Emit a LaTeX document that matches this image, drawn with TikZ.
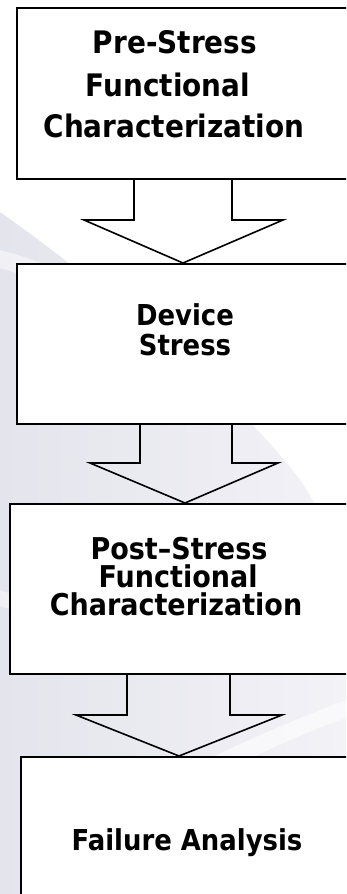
\documentclass[tikz,border=0pt]{standalone}
\usepackage{fontspec}
\newfontfamily\labelfont[FakeStretch=0.9]{DejaVu Sans}
\usetikzlibrary{calc}

\definecolor{haze}{HTML}{E4E4EC}
\definecolor{hazelight}{HTML}{F2F2F7}

\tikzset{
  stage/.style={draw=black, line width=2pt, fill=white, rectangle, inner sep=0pt,
    minimum width=380pt, anchor=north west},
  flow/.style={draw=black, line width=1.6pt, line join=miter},
  caption/.style={anchor=base, inner sep=0pt, text=black},
  big/.style={caption, font=\labelfont\bfseries\fontsize{31}{32}\selectfont},
  wide/.style={caption, font=\labelfont\bfseries\fontsize{30}{31}\selectfont},
  mid/.style={caption, font=\labelfont\bfseries\fontsize{28.8}{30}\selectfont},
}

\begin{document}
\begin{tikzpicture}[x=1pt, y=-1pt]
  \useasboundingbox (0,0) rectangle (346,894);
  \clip (0,0) rectangle (346,894);

  % backdrop: white sheet with a soft lavender sweep on the lower left
  \fill[white] (0,0) rectangle (346,894);
  \shade[left color=haze, right color=hazelight]
    (0,212) .. controls (110,290) and (240,400) .. (300,480)
    .. controls (320,510) and (335,540) .. (346,570)
    -- (346,894) -- (0,894) -- cycle;
  \fill[white, opacity=0.6]
    (130,800) .. controls (200,760) and (280,725) .. (346,700)
    -- (346,718) .. controls (290,738) and (220,770) .. (170,805) -- cycle;
  \fill[white, opacity=0.45]
    (0,590) .. controls (60,612) and (130,636) .. (220,662)
    -- (220,672) .. controls (130,648) and (60,626) .. (0,606) -- cycle;
  \fill[white, opacity=0.5]
    (0,250) .. controls (30,258) and (50,266) .. (70,276)
    -- (70,292) .. controls (45,282) and (20,274) .. (0,268) -- cycle;

  % stage boxes (they run past the right margin)
  \node[stage, minimum height=171pt] (b1) at (16,7) {};
  \node[stage, minimum height=160pt] (b2) at (16,263) {};
  \node[stage, minimum height=170pt] (b3) at (9,503) {};
  \node[stage, minimum height=200pt] (b4) at (20,756) {};

  % captions
  \node[big] (t1a) at (175,53) {Pre-Stress};
  \node[big] (t1b) at (168,96) {Functional};
  \node[big] (t1c) at (174,137) {Characterization};

  \node[mid] (t2a) at (185,325) {Device};
  \node[mid] (t2b) at (185,355) {Stress};

  \node[wide] (t3a) at (179,559) {Post–Stress};
  \node[wide] (t3b) at (178,587) {Functional};
  \node[wide] (t3c) at (176,615) {Characterization};

  \node[mid] (t4a) at (187,850) {Failure Analysis};

  % block arrows between the stages (outline only)
  \draw[flow] (134,0 |- b1.south) -- (134,220) -- (84,220)
    -- (183,0 |- b2.north) -- (283,220) -- (232,220) -- (232,0 |- b1.south);
  \draw[flow] (140,0 |- b2.south) -- (140,463) -- (90,463)
    -- (185,0 |- b3.north) -- (278,463) -- (232,463) -- (232,0 |- b2.south);
  \draw[flow] (127,0 |- b3.south) -- (127,715) -- (76,715)
    -- (179,0 |- b4.north) -- (282,715) -- (230,715) -- (230,0 |- b3.south);
\end{tikzpicture}
\end{document}
